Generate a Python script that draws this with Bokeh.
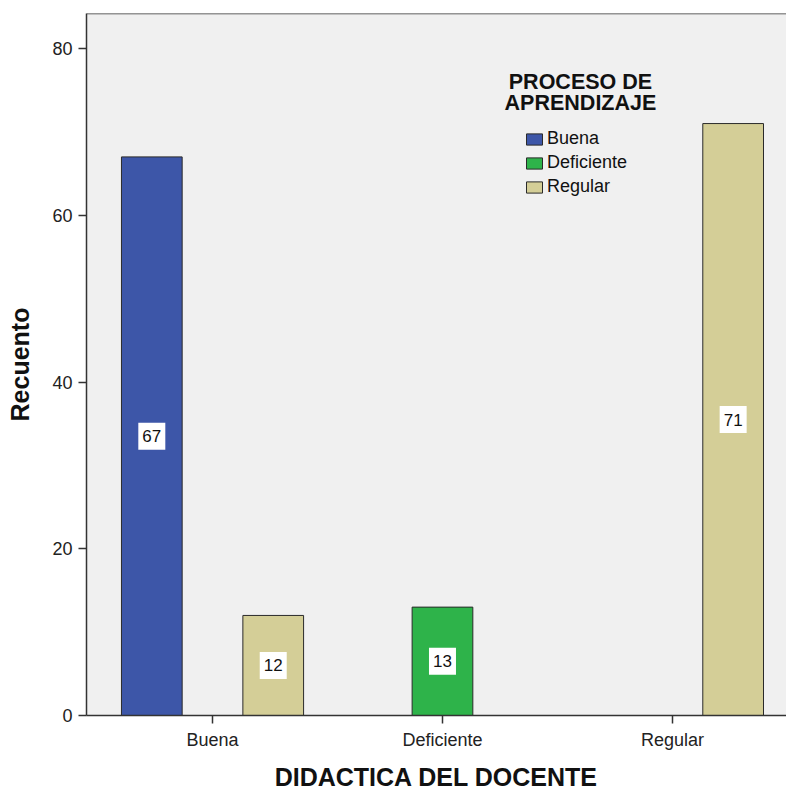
from bokeh.plotting import figure
from bokeh.models import (ColumnDataSource, Range1d, FixedTicker, Legend, LegendItem,
                          Label, Span)
from bokeh.transform import dodge
from bokeh.embed import file_html
from bokeh.resources import INLINE

# ---- data ----
groups = ["Buena", "Deficiente", "Regular"]          # DIDACTICA DEL DOCENTE
series = ["Buena", "Deficiente", "Regular"]          # PROCESO DE APRENDIZAJE
counts_buena = [67, 0, 0]
counts_deficiente = [0, 13, 0]
counts_regular = [12, 0, 71]
colors = ["#3D56A8", "#2EB34A", "#D4CE97"]
y_ticks = [0, 20, 40, 60, 80]

FONT = "Liberation Sans"
BAR_W = 0.264
offsets = [-BAR_W, 0.0, BAR_W]
Y_MAX = 84.2

p = figure(width=786, height=793, output_backend="svg", toolbar_location=None,
           x_range=Range1d(-0.548, 2.496), y_range=Range1d(0, Y_MAX),
           min_border_left=86, min_border_right=0, min_border_top=13, min_border_bottom=77)
p.background_fill_color = "#F0F0F0"
p.border_fill_color = "white"
p.outline_line_color = None
p.xgrid.visible = False
p.ygrid.visible = False

renderers = []
for name, vals, col, off in zip(series, [counts_buena, counts_deficiente, counts_regular], colors, offsets):
    xs = [i for i, v in enumerate(vals) if v > 0]
    vs = [v for v in vals if v > 0]
    src = ColumnDataSource(dict(x=xs, top=vs, mid=[v / 2 for v in vs], lab=[str(v) for v in vs]))
    r = p.vbar(x=dodge("x", off), top="top", width=BAR_W, bottom=0, source=src,
               fill_color=col, line_color="#2a2a2a", line_width=1)
    renderers.append((name, r))
    p.scatter(x=dodge("x", off), y="mid", source=src, marker="square", size=27,
              fill_color="white", line_color=None)
    p.text(x=dodge("x", off), y="mid", text="lab", source=src, text_align="center",
           text_baseline="middle", text_font_size="17px", text_color="#111111",
           text_font={"value": FONT})

# top border of the frame
p.add_layout(Span(location=Y_MAX, dimension="width", line_color="#333333", line_width=1.5))

# axes
p.xaxis.ticker = FixedTicker(ticks=[0, 1, 2])
p.xaxis.major_label_overrides = {i: g for i, g in enumerate(groups)}
p.yaxis.ticker = FixedTicker(ticks=y_ticks)
for ax in (p.xaxis[0], p.yaxis[0]):
    ax.axis_line_color = "#333333"
    ax.axis_line_width = 1.5
    ax.major_tick_line_color = "#333333"
    ax.major_tick_line_width = 1.5
    ax.major_tick_out = 8
    ax.major_tick_in = 0
    ax.minor_tick_line_color = None
    ax.major_label_text_font = FONT
    ax.major_label_text_font_size = "18px"
    ax.major_label_text_color = "#222222"
    ax.axis_label_text_font = FONT
    ax.axis_label_text_font_style = "bold"
    ax.axis_label_text_color = "#111111"
    ax.axis_label_text_font_size = "25px"

p.xaxis.axis_label = "DIDACTICA DEL DOCENTE"
p.yaxis.axis_label = "Recuento"
p.xaxis.major_label_standoff = 6
p.xaxis.axis_label_standoff = 10
p.yaxis.major_label_standoff = 6
p.yaxis.axis_label_standoff = 15

# legend
legend = Legend(items=[LegendItem(label=n, renderers=[r]) for n, r in renderers],
                location=(438, 518), orientation="vertical",
                glyph_width=20, glyph_height=14, label_height=20, spacing=3,
                padding=0, margin=0, label_standoff=3,
                label_text_font=FONT, label_text_font_size="18px", label_text_color="#111111",
                background_fill_alpha=0, border_line_color=None)
p.add_layout(legend)

legend_title = ["PROCESO DE", "APRENDIZAJE"]
for i, t in enumerate(legend_title):
    p.add_layout(Label(x=1.6, y=76.0 - i * 2.55, text=t, text_align="center",
                       text_baseline="middle", text_font=FONT, text_font_style="bold",
                       text_font_size="21.5px", text_color="#111111"))

open("out.html", "w").write(file_html(p, INLINE))
